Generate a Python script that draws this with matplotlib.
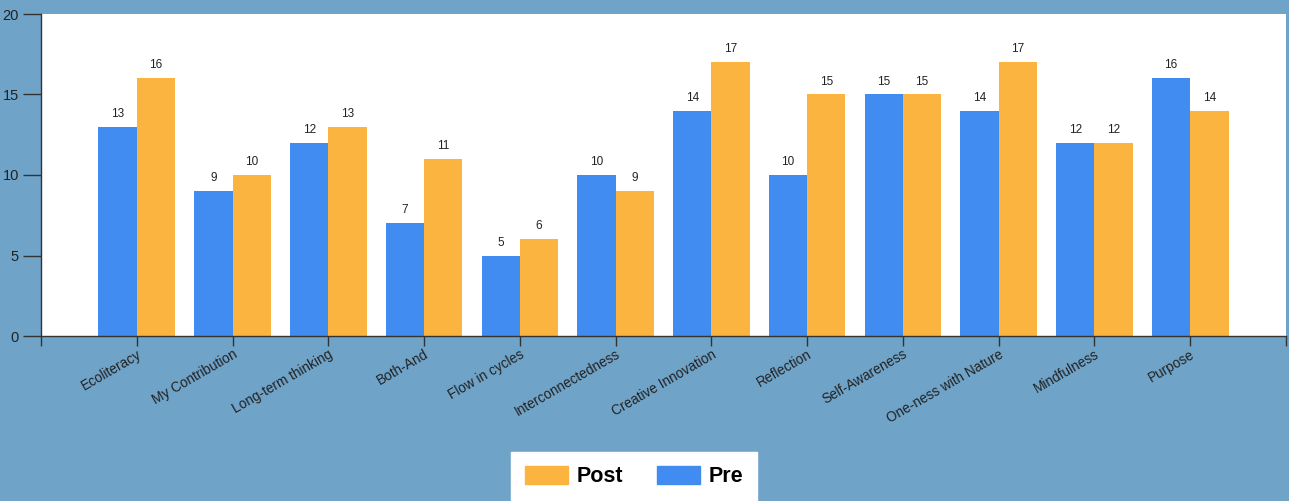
import numpy as np
import matplotlib.pyplot as plt
from matplotlib.patches import Patch

plt.rcParams['font.family'] = ['Liberation Sans', 'DejaVu Sans']

categories = ['Ecoliteracy', 'My Contribution', 'Long-term thinking', 'Both-And',
              'Flow in cycles', 'Interconnectedness', 'Creative Innovation', 'Reflection',
              'Self-Awareness', 'One-ness with Nature', 'Mindfulness', 'Purpose']
pre = [13, 9, 12, 7, 5, 10, 14, 10, 15, 14, 12, 16]
post = [16, 10, 13, 11, 6, 9, 17, 15, 15, 17, 12, 14]

bg = '#6fa3c8'
c_pre = '#418cf0'
c_post = '#fcb441'
txt = '#222222'

fig = plt.figure(figsize=(12.89, 5.01), dpi=100, facecolor=bg)
ax = fig.add_axes([41 / 1289, 1 - 336 / 501, (1286 - 41) / 1289, (336 - 14) / 501])
ax.set_facecolor('white')

x = np.arange(1, len(categories) + 1)
w = 0.4
b1 = ax.bar(x - w / 2, pre, w, color=c_pre)
b2 = ax.bar(x + w / 2, post, w, color=c_post)

for bars in (b1, b2):
    for r in bars:
        ax.annotate(f'{int(r.get_height())}', (r.get_x() + r.get_width() / 2, r.get_height()),
                    xytext=(0, 5), textcoords='offset points', ha='center', va='bottom',
                    fontsize=8.5, color=txt)

ax.set_xlim(0, 13)
ax.set_ylim(0, 20)
ax.set_yticks([0, 5, 10, 15, 20])
ax.set_xticks(np.arange(0, 14))
ax.set_xticklabels([''] + categories + [''], rotation=30, ha='right',
                   rotation_mode='anchor', fontsize=9.8, color=txt)
ax.tick_params(axis='x', length=7, width=1, color='#333333', pad=1)
ax.tick_params(axis='y', length=13, width=1, color='#333333', labelsize=10.5, labelcolor=txt, pad=3)

for s in ['top', 'right']:
    ax.spines[s].set_visible(False)
for s in ['left', 'bottom']:
    ax.spines[s].set_color('#333333')
    ax.spines[s].set_linewidth(1)

handles = [Patch(color=c_post, label='Post'), Patch(color=c_pre, label='Pre')]
leg = fig.legend(handles=handles, ncol=2, loc='lower center',
                 bbox_to_anchor=(634 / 1289, 0.0), frameon=True, fancybox=False,
                 prop={'weight': 'bold', 'size': 15.5}, handlelength=2.0, handleheight=0.9,
                 columnspacing=1.6, handletextpad=0.4, borderpad=0.65, borderaxespad=0)
leg.get_frame().set_facecolor('white')
leg.get_frame().set_edgecolor('white')
leg.get_frame().set_alpha(1)

fig.savefig('out.png', dpi=100, facecolor=bg)
